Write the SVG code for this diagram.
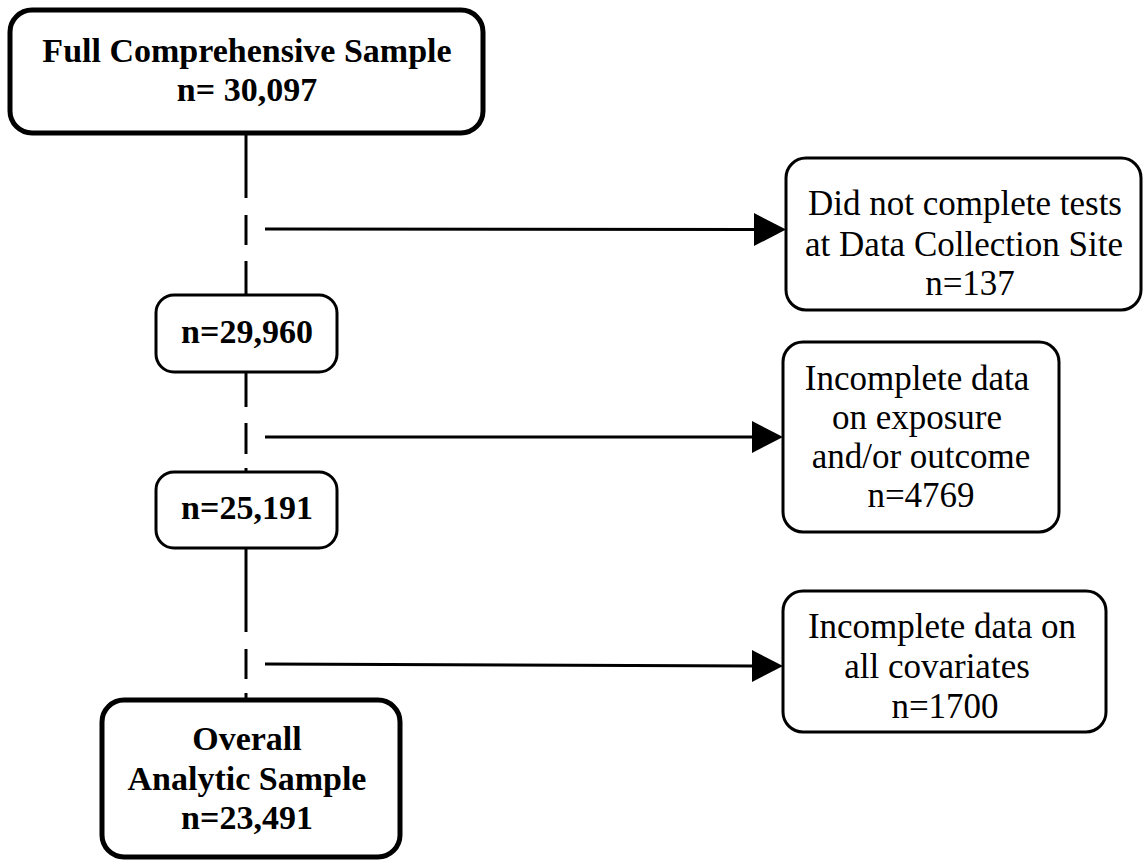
<svg xmlns="http://www.w3.org/2000/svg" width="1143" height="861" viewBox="0 0 1143 861">
<style>
.main{fill:#fff;stroke:#000;stroke-width:5}
.mid{fill:#fff;stroke:#000;stroke-width:3}
.side{fill:#fff;stroke:#000;stroke-width:3}
.b{font-family:"Liberation Serif","Times New Roman",serif;font-weight:bold;font-size:34px;text-anchor:middle;fill:#000}
.r{font-family:"Liberation Serif","Times New Roman",serif;font-size:35px;text-anchor:middle;fill:#000}
.ln{stroke:#000;stroke-width:3;fill:none}
.head{fill:#000}
</style>
<g id="connectors">
<line class="ln" x1="246" y1="133" x2="246" y2="198"/>
<line class="ln" x1="246" y1="215" x2="246" y2="245"/>
<line class="ln" x1="246" y1="261" x2="246" y2="295"/>
<line class="ln" x1="246" y1="372" x2="246" y2="407"/>
<line class="ln" x1="246" y1="423" x2="246" y2="454"/>
<line class="ln" x1="246" y1="468" x2="246" y2="472"/>
<line class="ln" x1="246" y1="548" x2="246" y2="632"/>
<line class="ln" x1="246" y1="649" x2="246" y2="679"/>
<line class="ln" x1="246" y1="693" x2="246" y2="700"/>
<line class="ln" x1="265" y1="229" x2="756" y2="229.5"/>
<polygon class="head" points="754,213 786,229.5 754,246"/>
<line class="ln" x1="265" y1="437" x2="754" y2="437"/>
<polygon class="head" points="752,421 783,437 752,453"/>
<line class="ln" x1="265" y1="664" x2="754" y2="666"/>
<polygon class="head" points="752,650 783,666 752,682"/>
</g>
<g id="full">
<rect class="main" x="10" y="10" width="473" height="123" rx="22"/>
<text class="b" x="247" y="62">Full Comprehensive Sample</text>
<text class="b" x="247" y="101">n= 30,097</text>
</g>
<g id="n29960">
<rect class="mid" x="156" y="295" width="181" height="77" rx="18"/>
<text class="b" x="247" y="343">n=29,960</text>
</g>
<g id="n25191">
<rect class="mid" x="156" y="472" width="181" height="76" rx="18"/>
<text class="b" x="247" y="519">n=25,191</text>
</g>
<g id="overall">
<rect class="main" x="102" y="700" width="298" height="157" rx="22"/>
<text class="b" x="247" y="750">Overall</text>
<text class="b" x="247" y="790">Analytic Sample</text>
<text class="b" x="247" y="829">n=23,491</text>
</g>
<g id="excl1">
<rect class="side" x="786" y="158" width="355" height="152" rx="20"/>
<text class="r" x="965" y="215">Did not complete tests</text>
<text class="r" x="964" y="256">at Data Collection Site</text>
<text class="r" x="970" y="295">n=137</text>
</g>
<g id="excl2">
<rect class="side" x="783" y="342" width="276" height="190" rx="20"/>
<text class="r" x="917" y="390">Incomplete data</text>
<text class="r" x="917" y="429">on exposure</text>
<text class="r" x="921" y="468">and/or outcome</text>
<text class="r" x="921" y="507">n=4769</text>
</g>
<g id="excl3">
<rect class="side" x="783" y="591" width="323" height="141" rx="20"/>
<text class="r" x="942" y="638">Incomplete data on</text>
<text class="r" x="937" y="678">all covariates</text>
<text class="r" x="945" y="718">n=1700</text>
</g>
</svg>
